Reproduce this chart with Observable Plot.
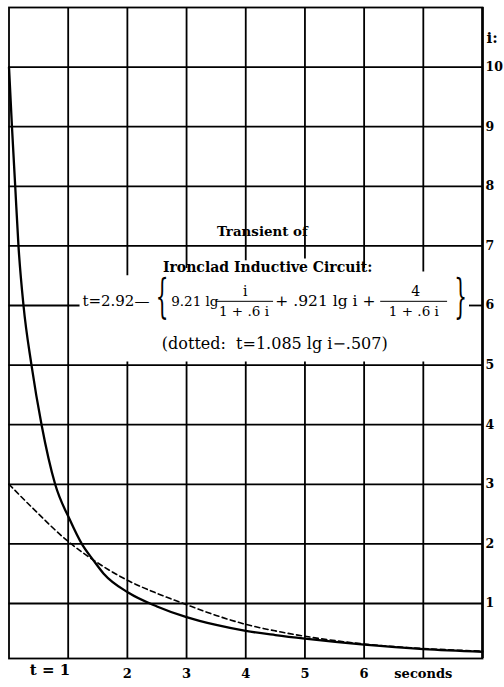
<!DOCTYPE html>
<html>
<head>
<meta charset="utf-8">
<script src="https://cdn.jsdelivr.net/npm/d3@7"></script>
<script src="https://cdn.jsdelivr.net/npm/@observablehq/plot@0.6"></script>
<style>
  html, body { margin: 0; padding: 0; background: #fff; }
</style>
</head>
<body>
<div id="chart"></div>
<script>
// ---- data ----
const tTicks = [1, 2, 3, 4, 5, 6, 7];
const tLabels = ["t = 1", "2", "3", "4", "5", "6", "seconds"];
const iTicks = [1, 2, 3, 4, 5, 6, 7, 8, 9, 10];

// solid curve: transient of ironclad circuit (t in s, i)
const solidT = [0, 0.05, 0.105, 0.16, 0.245, 0.38, 0.55, 0.78, 1.03, 1.23, 1.43, 1.6, 2.02, 2.5, 3.0, 3.5, 4.0, 4.5, 5.0, 6.0, 7.0, 8.0];
const solidI = [10, 9, 8, 7, 6, 5, 4, 3, 2.4, 2.0, 1.72, 1.5, 1.18, 0.95, 0.77, 0.64, 0.54, 0.47, 0.41, 0.31, 0.235, 0.19];

// dotted (dashed) comparison curve
const dashT = [0, 0.4, 1.0, 1.5, 2.0, 2.5, 3.0, 3.5, 4.0, 4.5, 5.0, 6.0, 7.0, 8.0];
const dashI = [3.0, 2.6, 2.04, 1.68, 1.39, 1.17, 0.98, 0.80, 0.65, 0.54, 0.45, 0.32, 0.245, 0.2];

// grid lines interrupted by the text block
const gapT = [2, 3, 4, 5, 6, 7];
const gapTopI = [6.5, 6.62, 6.75, 6.78, 6.62, 6.56];
const gapBottomI = 5.05;
const iMin = 0.077, iMax = 11, tMin = 0, tMax = 8;

// annotation text
const notes = [
  {text: "Transient of", t: 4.28, i: 7.24, size: 13.4, weight: "bold", anchor: "middle"},
  {text: "Ironclad Inductive Circuit:", t: 4.37, i: 6.64, size: 14, weight: "bold", anchor: "middle"},
  {text: "t=2.92\u2014", t: 1.24, i: 6.07, size: 15, weight: "normal", anchor: "start"},
  {text: "9.21 lg", t: 2.74, i: 6.07, size: 13.5, weight: "normal", anchor: "start"},
  {text: "i", t: 3.99, i: 6.23, size: 14, weight: "normal", anchor: "middle"},
  {text: "1 + .6 i", t: 3.97, i: 5.9, size: 13.5, weight: "normal", anchor: "middle"},
  {text: "+ .921 lg i +", t: 4.50, i: 6.07, size: 15.5, weight: "normal", anchor: "start"},
  {text: "4", t: 6.87, i: 6.23, size: 14, weight: "normal", anchor: "middle"},
  {text: "1 + .6 i", t: 6.84, i: 5.9, size: 13.5, weight: "normal", anchor: "middle"},
  {text: "(dotted:  t=1.085 lg i\u2212.507)", t: 4.49, i: 5.36, size: 16, weight: "normal", anchor: "middle"}
];
const braces = [
  {text: "{", t: 2.585, i: 6.14},
  {text: "}", t: 7.63, i: 6.14}
];
const fracBars = [
  {t1: 3.5, t2: 4.47, i: 6.07},
  {t1: 6.28, t2: 7.41, i: 6.07}
];
const iSegs6 = [{t1: 0, t2: 1.2}, {t1: 7.78, t2: 8}];

// ---- build segment tables ----
const vSegs = [];
for (const t of tTicks) {
  const k = gapT.indexOf(t);
  if (k < 0) vSegs.push({t, i1: iMin, i2: iMax});
  else {
    vSegs.push({t, i1: iMin, i2: gapBottomI});
    vSegs.push({t, i1: gapTopI[k], i2: iMax});
  }
}
const hSegs = [];
for (const i of iTicks) {
  if (i === 6) iSegs6.forEach(s => hSegs.push({i, t1: s.t1, t2: s.t2}));
  else hSegs.push({i, t1: tMin, t2: tMax});
}
const solid = solidT.map((t, k) => ({t, i: solidI[k]}));
const dashed = dashT.map((t, k) => ({t, i: dashI[k]}));

const serif = "DejaVu Serif";

const chart = Plot.plot({
  width: 504,
  height: 687,
  marginLeft: 8.5,
  marginRight: 22,
  marginTop: 7,
  marginBottom: 29,
  x: {domain: [tMin, tMax]},
  y: {domain: [iMin, iMax]},
  style: {background: "white", fontFamily: serif, color: "black"},
  marks: [
    Plot.ruleX(vSegs, {x: "t", y1: "i1", y2: "i2", stroke: "black", strokeWidth: 1.8}),
    Plot.ruleY(hSegs, {y: "i", x1: "t1", x2: "t2", stroke: "black", strokeWidth: 1.8}),
    Plot.frame({stroke: "black", strokeWidth: 1.8}),
    Plot.ruleX([tMax], {stroke: "black", strokeWidth: 2.6}),
    Plot.line(dashed, {x: "t", y: "i", stroke: "black", strokeWidth: 1.6, strokeDasharray: "5,3.5", curve: "monotone-x"}),
    Plot.line(solid, {x: "t", y: "i", stroke: "black", strokeWidth: 2.3, curve: "monotone-x"}),
    Plot.ruleY(fracBars, {y: "i", x1: "t1", x2: "t2", stroke: "black", strokeWidth: 1}),
    Plot.text(notes, {x: "t", y: "i", text: "text", fontSize: d => d.size, textAnchor: "start", filter: d => d.anchor === "start" && d.weight === "normal"}),
    Plot.text(notes, {x: "t", y: "i", text: "text", fontSize: d => d.size, textAnchor: "middle", filter: d => d.anchor === "middle" && d.weight === "normal"}),
    Plot.text(notes, {x: "t", y: "i", text: "text", fontSize: d => d.size, fontWeight: "bold", textAnchor: "middle", filter: d => d.weight === "bold"}),
    Plot.text(braces, {x: "t", y: "i", text: "text", fontSize: 40, fontFamily: "DejaVu Serif", fill: "black"}),
    Plot.axisY({ticks: iTicks, anchor: "right", tickSize: 0, tickPadding: 3, label: null, fontWeight: "bold", fontSize: 12.5, tickFormat: d => String(d)}),
    Plot.text(["i:"], {frameAnchor: "top-right", dx: 4, dy: 25, textAnchor: "start", fontWeight: "bold", fontSize: 15}),
    Plot.axisX({ticks: tTicks.slice(1), anchor: "bottom", tickSize: 0, tickPadding: 10, label: null, fontWeight: "bold", fontSize: 13,
      tickFormat: d => tLabels[tTicks.indexOf(d)]}),
    Plot.text([tLabels[0]], {x: tTicks[0], frameAnchor: "bottom", dy: 16, dx: 2, textAnchor: "end", fontWeight: "bold", fontSize: 15})
  ]
});
document.getElementById("chart").appendChild(chart);

// make the braces tall and thin like the printed ones (scale about each glyph's anchor)
d3.select(chart).selectAll("text").each(function () {
  const s = this.textContent;
  if (s !== "{" && s !== "}") return;
  const tr = this.getAttribute("transform") || "";
  this.setAttribute("transform", `${tr} scale(0.5,1.15)`);
});
</script>
</body>
</html>
